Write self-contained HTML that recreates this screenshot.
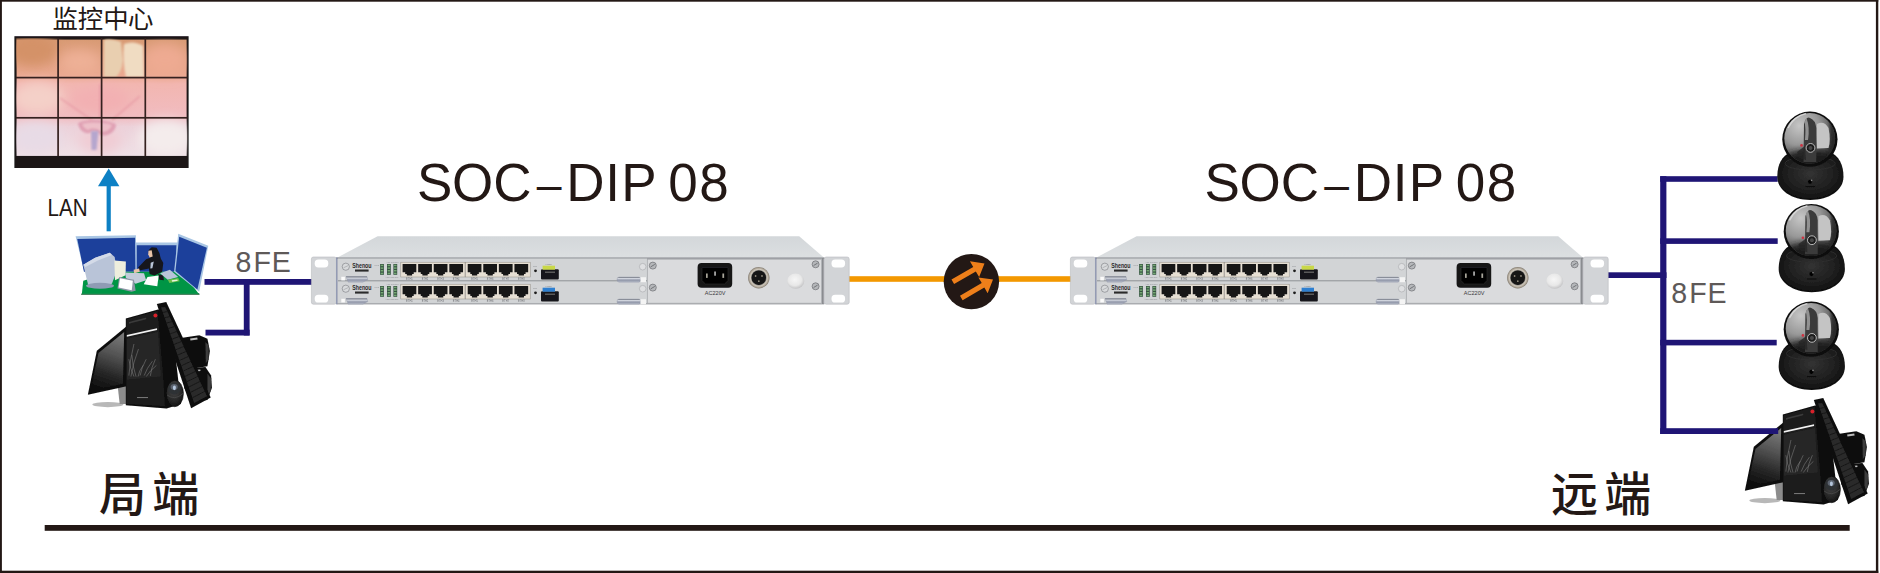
<!DOCTYPE html>
<html lang="zh-CN">
<head>
<meta charset="utf-8">
<title>SOC-DIP 08</title>
<style>
html,body{margin:0;padding:0;background:#fff;}
body{width:1880px;height:573px;overflow:hidden;position:relative;font-family:"Liberation Sans","Noto Sans CJK SC",sans-serif;}
svg{position:absolute;left:0;top:0;display:block;}
.cn{font-family:"Liberation Sans","Noto Sans CJK SC","WenQuanYi Zen Hei",sans-serif;fill:#231815;font-weight:500;}
.la{font-family:"Liberation Sans",sans-serif;}
</style>
</head>
<body>
<svg width="1880" height="573" viewBox="0 0 1880 573">
<defs>
<filter id="b05" x="-5%" y="-5%" width="110%" height="110%"><feGaussianBlur stdDeviation="0.5"/></filter>
<filter id="b1" x="-10%" y="-10%" width="120%" height="120%"><feGaussianBlur stdDeviation="1"/></filter>
<filter id="b3" x="-30%" y="-30%" width="160%" height="160%"><feGaussianBlur stdDeviation="3"/></filter>
<filter id="b6" x="-50%" y="-50%" width="200%" height="200%"><feGaussianBlur stdDeviation="6"/></filter>
<linearGradient id="wallg" x1="0" y1="0" x2="0" y2="1">
<stop offset="0" stop-color="#d89a74"/><stop offset="0.3" stop-color="#eaa890"/><stop offset="0.38" stop-color="#f2b6b0"/><stop offset="0.66" stop-color="#f1bcc0"/><stop offset="0.75" stop-color="#ecd2da"/><stop offset="1" stop-color="#efe0e6"/>
</linearGradient>
<clipPath id="wallclip"><rect x="16.3" y="38.3" width="171" height="117.6"/></clipPath>
<linearGradient id="topface" x1="0" y1="0" x2="0" y2="1"><stop offset="0" stop-color="#d3d7da"/><stop offset="1" stop-color="#dcdfe1"/></linearGradient>
<radialGradient id="domeg" cx="0.3" cy="0.25" r="0.85"><stop offset="0" stop-color="#c6c6c6"/><stop offset="0.45" stop-color="#989898"/><stop offset="0.8" stop-color="#505050"/><stop offset="1" stop-color="#2c2c2c"/></radialGradient>
<radialGradient id="baseg" cx="0.5" cy="0.45" r="0.62"><stop offset="0" stop-color="#333333"/><stop offset="0.6" stop-color="#1e1e1e"/><stop offset="1" stop-color="#080808"/></radialGradient>
<linearGradient id="mong" x1="0.55" y1="0" x2="0.35" y2="1"><stop offset="0" stop-color="#777777"/><stop offset="0.35" stop-color="#525252"/><stop offset="0.7" stop-color="#262626"/><stop offset="1" stop-color="#0c0c0c"/></linearGradient>
<linearGradient id="silver" x1="0" y1="0" x2="0" y2="1"><stop offset="0" stop-color="#5a5e68"/><stop offset="0.25" stop-color="#d8dce4"/><stop offset="0.6" stop-color="#9096a8"/><stop offset="1" stop-color="#b8bcc8"/></linearGradient>
<radialGradient id="mouseg" cx="0.45" cy="0.35" r="0.75"><stop offset="0" stop-color="#4a4a4a"/><stop offset="0.6" stop-color="#262626"/><stop offset="1" stop-color="#0a0a0a"/></radialGradient>
<radialGradient id="knobg" cx="0.45" cy="0.4" r="0.6"><stop offset="0" stop-color="#f6f6f6"/><stop offset="0.65" stop-color="#e8e8e8"/><stop offset="1" stop-color="#c4c4c6"/></radialGradient>
<radialGradient id="ringg" cx="0.5" cy="0.5" r="0.5"><stop offset="0.6" stop-color="#555"/><stop offset="0.78" stop-color="#cfc8bc"/><stop offset="0.92" stop-color="#a59c8e"/><stop offset="1" stop-color="#7d766c"/></radialGradient>
</defs>

<rect x="0" y="0" width="1880" height="573" fill="#fff"/>
<g fill="#231815"><rect x="0" y="0" width="1878.3" height="1.7"/><rect x="0" y="0" width="1.9" height="573"/><rect x="1875.9" y="0" width="2.4" height="573"/><rect x="0" y="570.7" width="1878.3" height="2.3"/></g>
<g id="wall">
<rect x="14.4" y="36.2" width="174.2" height="131.8" fill="#1a1516" filter="url(#b05)"/>
<rect x="16.6" y="39.6" width="170" height="116.3" fill="url(#wallg)"/>
<g clip-path="url(#wallclip)">
<ellipse cx="32" cy="50" rx="26" ry="16" fill="#d49268" filter="url(#b6)"/>
<ellipse cx="80" cy="62" rx="20" ry="12" fill="#eeb096" filter="url(#b6)"/>
<ellipse cx="165" cy="60" rx="22" ry="16" fill="#eeaa92" filter="url(#b6)"/>
<path d="M104 40 Q110 38 121 42 L123 60 Q122 72 116 77 L104 77 Z" fill="#e9cfb0" filter="url(#b1)"/>
<path d="M124 44 Q134 40 143 46 L144 77 L126 77 Q122 60 124 44 Z" fill="#f0dcc2" filter="url(#b1)"/>
<ellipse cx="38" cy="98" rx="26" ry="16" fill="#f4d0c8" filter="url(#b6)"/>
<ellipse cx="100" cy="100" rx="30" ry="14" fill="#f2b0b2" filter="url(#b6)"/>
<ellipse cx="166" cy="138" rx="28" ry="18" fill="#f4ecec" filter="url(#b6)"/>
<ellipse cx="36" cy="138" rx="26" ry="16" fill="#e8dbe6" filter="url(#b6)"/>
<ellipse cx="100" cy="140" rx="22" ry="14" fill="#f0ccd4" filter="url(#b6)"/>
<path d="M78 123 C86 119 104 119 116 124 C116 132 108 137 100 135 C98 132 94 130 90 133 C84 134 79 130 78 123 Z" fill="#de9bb0" filter="url(#b1)" opacity="0.9"/>
<path d="M82 124 C90 122 104 122 112 125 C110 131 104 133 100 131 C96 128 92 128 88 130 C85 129 83 127 82 124 Z" fill="#efc4cc" filter="url(#b1)" opacity="0.9"/>
<path d="M91 131 L98.5 131 L96.5 150 L91.5 150 Z" fill="#b5a6ce" filter="url(#b1)"/>
<path d="M60 98 L92 120 M140 96 L112 120 M100 84 L100 118" stroke="#e79aa4" stroke-width="2" fill="none" filter="url(#b1)" opacity="0.7"/>
</g>
<rect x="57.25" y="38" width="1.7" height="118" fill="#35211f"/>
<rect x="100.75" y="38" width="1.7" height="118" fill="#35211f"/>
<rect x="144.45" y="38" width="1.7" height="118" fill="#35211f"/>
<rect x="16" y="76.75" width="171.5" height="1.7" fill="#35211f"/>
<rect x="16" y="116.95" width="171.5" height="1.7" fill="#35211f"/>
</g>
<text class="cn" x="52.6 77.8 103.2 127.9" y="27.7" font-size="25.4" style="font-weight:400">监控中心</text>
<rect x="106.6" y="184" width="4.2" height="47.3" fill="#0d80c4"/>
<polygon points="108.7,168.5 98,186.3 119.4,186.3" fill="#0d80c4"/>
<text class="la" x="47.6" y="216.3" font-size="24.4" fill="#231815" textLength="40" lengthAdjust="spacingAndGlyphs">LAN</text>
<g id="office" filter="url(#b05)">
<polygon points="75.59,236.17 135.92,235.34 136.48,271.09 83.97,271.09" fill="#a9c6e4"/>
<polygon points="77.26,238.97 135.08,237.85 135.64,271.79 83.97,271.79" fill="#1d3f9b"/>
<polygon points="135.64,242.46 178.24,242.46 178.24,271.79 135.64,271.79" fill="#a9c6e4"/>
<polygon points="136.76,245.25 176.42,245.25 176.42,271.79 136.76,271.79" fill="#1d3f9b"/>
<polygon points="80.89,294.83 199.61,294.83 199.19,293.16 81.87,293.16" fill="#0b5b2c"/>
<polygon points="81.87,293.72 198.77,293.72 181.73,271.79 111.9,271.79 83.27,280.87" fill="#019545"/>
<polygon points="178.24,233.66 208.27,245.67 199.19,291.76 174.05,271.79" fill="#a9c6e4"/>
<polygon points="179.22,236.87 206.87,247.63 197.37,289.53 175.45,271.09" fill="#1d3f9b"/>
<path d="M83.27,264.8 L95.14,257.82 L109.8,252.65 L114.69,257.12 L116.79,271.09 L111.9,283.66 L99.33,287.57 L88.16,285.06" fill="#b9c4d8"/>
<polygon points="83.27,264.8 95.14,257.82 109.8,252.65 111.9,255.03 97.93,260.61 85.36,266.9" fill="#d4dbe8"/>
<ellipse cx="100.03" cy="285.75" rx="14" ry="3" fill="#8f9bb4"/>
<polygon points="114.41,260.61 125.87,261.59 125.59,275.28 114.97,280.17" fill="#eeeedd"/>
<polygon points="125.17,272.49 144.02,273.18 146.12,280.17 135.64,283.66 125.87,278.07" fill="#c4ccda"/>
<path d="M148.49,250.14 L151.7,247.35 L156.59,247.63 L159.39,252.93 L160.78,258.52 L163.3,262.99 L162.18,271.79 L154.5,275.56 L149.61,273.88 L148.91,268.58 L139.13,270.39 L138.16,267.6 L146.12,259.22 L150.31,257.68 Z" fill="#15161a"/>
<polygon points="148.49,250.84 151.7,250.14 152.68,256.42 149.61,257.4 148.21,254.33" fill="#e9c3a8"/>
<polygon points="150.73,262.71 153.8,261.59 152.4,268.3 150.31,268.58" fill="#b9c4d8"/>
<polygon points="133.55,269.69 139.13,268.58 139.83,271.79 134.25,273.18" fill="#e9c3a8"/>
<polygon points="157.99,274.16 163.3,275.28 163.85,280.17 159.39,279.75" fill="#15161a"/>
<polygon points="147.51,276.96 158.69,275.56 157.29,286.17 143.74,284.36" fill="#fdfdfd"/>
<polygon points="160.08,273.18 169.86,269.69 178.24,276.96 167.77,279.75" fill="#b9c4d8"/>
<polygon points="167.77,279.75 178.24,278.07 179.64,281.15 169.44,282.96" fill="#6dbf4a"/>
<polygon points="171.68,280.31 177.26,279.47 177.82,280.87 172.23,281.7" fill="#e8f4e0"/>
<polygon points="119.16,276.96 133.97,279.75 135.64,290.64 131.45,291.76 117.49,288.55" fill="#8d96a6"/>
<polygon points="120,278.35 132.85,280.87 131.73,290.36 118.6,287.57" fill="#ffffff"/>
</g>
<g transform="translate(0,0)" filter="url(#b05)">
<ellipse cx="107.86" cy="404.53" rx="15.5" ry="2.6" fill="#b8b8b8"/>
<polygon points="117.65,385.76 126.63,383.71 126.63,404.12 119.69,404.12" fill="#8c8c8c"/>
<polygon points="96.84,350.65 126.63,326.16 126.63,386.16 87.86,394.73" fill="#0c0c0c"/>
<polygon points="98.47,353.1 124.18,331.88 122.96,383.71 90.31,391.06" fill="url(#mong)"/>
<polygon points="125.82,318.41 158.06,309.43 170.71,313.31 180.92,404.12 166.63,408.61 125.82,405.35" fill="#0a0a0a"/>
<polygon points="126.43,319.22 157.65,310.65 163.37,377.59 165,406.16 126.43,404.12" fill="#1b1b1b"/>
<polygon points="126.84,338.82 158.06,331.67 160.92,376.57 126.84,379.63" fill="#262626"/>
<polygon points="126.84,334.94 157.04,328.2 157.04,330.04 126.84,336.78" fill="#f2f2f2"/>
<path d="M128.88,375.55 Q129.8,359.73 133.98,343.92" stroke="#8a8a8a" stroke-width="0.5" fill="none"/>
<path d="M130.92,376.57 Q133.06,362.8 138.47,349.02" stroke="#8a8a8a" stroke-width="0.5" fill="none"/>
<path d="M136.02,376.57 Q132.35,365.86 131.94,355.14" stroke="#8a8a8a" stroke-width="0.5" fill="none"/>
<path d="M140.1,375.55 Q141.53,367.39 146.22,359.22" stroke="#8a8a8a" stroke-width="0.5" fill="none"/>
<path d="M144.18,375.55 Q146.63,368.41 152.35,361.27" stroke="#8a8a8a" stroke-width="0.5" fill="none"/>
<path d="M146.22,376.57 Q149.69,370.96 156.43,365.35" stroke="#8a8a8a" stroke-width="0.5" fill="none"/>
<path d="M133.98,376.57 Q129.8,367.9 128.88,359.22" stroke="#8a8a8a" stroke-width="0.5" fill="none"/>
<path d="M150.31,375.96 Q151.22,367.59 155.41,359.22" stroke="#8a8a8a" stroke-width="0.5" fill="none"/>
<path d="M138.06,376.57 Q138.98,370.96 143.16,365.35" stroke="#8a8a8a" stroke-width="0.5" fill="none"/>
<polygon points="128.88,322.08 146.22,317.59 146.22,319.22 128.88,323.71" fill="#3a3a3a"/>
<circle cx="155.41" cy="315.55" r="2" fill="#d8202a"/>
<path d="M182.55,337.8 L199.29,335.14 L207.45,338.82 L209.9,351.06 L207.45,366.37 L187.04,369.43 L180.92,359.22 Z" fill="#0d0d0d"/>
<path d="M185,368.41 L205.41,366.98 L211.12,375.55 L211.94,387.8 L207.45,400.04 L191.12,402.08 L184.18,387.8 Z" fill="#0d0d0d"/>
<polygon points="205.41,341.88 208.67,345.35 208.67,359.22 205.82,363.31" fill="#3c3c3c"/>
<polygon points="207.45,373.51 211.12,378.61 210.71,390.86 207.45,396.98" fill="#3c3c3c"/>
<polygon points="190.1,338.41 197.24,337.39 197.65,339.43 190.51,340.45" fill="#bbb"/>
<polygon points="196.22,369.84 200.31,369.43 200.51,371.06 196.43,371.47" fill="#bbb"/>
<polygon points="156.84,304.12 166.22,302.08 210.71,397.59 191.12,408.2" fill="#0b0b0b"/>
<polygon points="160.92,307.18 165,306.57 207.04,396.37 194.18,403.1" fill="#2a2a2a"/>
<path d="M160.92,307.18 L165,306.57" stroke="#0b0b0b" stroke-width="0.6"/>
<path d="M162.77,312.51 L167.34,311.56" stroke="#0b0b0b" stroke-width="0.6"/>
<path d="M164.61,317.84 L169.67,316.55" stroke="#0b0b0b" stroke-width="0.6"/>
<path d="M166.46,323.17 L172.01,321.54" stroke="#0b0b0b" stroke-width="0.6"/>
<path d="M168.31,328.5 L174.34,326.53" stroke="#0b0b0b" stroke-width="0.6"/>
<path d="M170.16,333.83 L176.68,331.51" stroke="#0b0b0b" stroke-width="0.6"/>
<path d="M172.01,339.16 L179.01,336.5" stroke="#0b0b0b" stroke-width="0.6"/>
<path d="M173.85,344.49 L181.35,341.49" stroke="#0b0b0b" stroke-width="0.6"/>
<path d="M175.7,349.81 L183.68,346.48" stroke="#0b0b0b" stroke-width="0.6"/>
<path d="M177.55,355.14 L186.02,351.47" stroke="#0b0b0b" stroke-width="0.6"/>
<path d="M179.4,360.47 L188.36,356.46" stroke="#0b0b0b" stroke-width="0.6"/>
<path d="M181.25,365.8 L190.69,361.45" stroke="#0b0b0b" stroke-width="0.6"/>
<path d="M183.1,371.13 L193.03,366.44" stroke="#0b0b0b" stroke-width="0.6"/>
<path d="M184.94,376.46 L195.36,371.42" stroke="#0b0b0b" stroke-width="0.6"/>
<path d="M186.79,381.79 L197.7,376.41" stroke="#0b0b0b" stroke-width="0.6"/>
<path d="M188.64,387.12 L200.03,381.4" stroke="#0b0b0b" stroke-width="0.6"/>
<path d="M190.49,392.44 L202.37,386.39" stroke="#0b0b0b" stroke-width="0.6"/>
<path d="M192.34,397.77 L204.71,391.38" stroke="#0b0b0b" stroke-width="0.6"/>
<ellipse cx="174.8" cy="393.51" rx="8.6" ry="13.2" fill="url(#mouseg)" stroke="#050505" stroke-width="0.6"/>
<ellipse cx="174.39" cy="388.41" rx="6.4" ry="6" fill="#2e3034"/>
<ellipse cx="174.18" cy="386.98" rx="3.6" ry="3" fill="#5c6470"/>
<ellipse cx="174.39" cy="387.8" rx="1.5" ry="2.4" fill="#b4c6dc"/>
<path d="M167.04,394.94 Q174.8,401.06 182.96,393.51" stroke="#4a4a4a" stroke-width="0.8" fill="none"/>
<rect x="137.04" y="397.18" width="11" height="0.9" fill="#8a8a8a"/>
</g>
<g transform="translate(1657,96)" filter="url(#b05)">
<ellipse cx="107.86" cy="404.53" rx="15.5" ry="2.6" fill="#b8b8b8"/>
<polygon points="117.65,385.76 126.63,383.71 126.63,404.12 119.69,404.12" fill="#8c8c8c"/>
<polygon points="96.84,350.65 126.63,326.16 126.63,386.16 87.86,394.73" fill="#0c0c0c"/>
<polygon points="98.47,353.1 124.18,331.88 122.96,383.71 90.31,391.06" fill="url(#mong)"/>
<polygon points="125.82,318.41 158.06,309.43 170.71,313.31 180.92,404.12 166.63,408.61 125.82,405.35" fill="#0a0a0a"/>
<polygon points="126.43,319.22 157.65,310.65 163.37,377.59 165,406.16 126.43,404.12" fill="#1b1b1b"/>
<polygon points="126.84,338.82 158.06,331.67 160.92,376.57 126.84,379.63" fill="#262626"/>
<polygon points="126.84,334.94 157.04,328.2 157.04,330.04 126.84,336.78" fill="#f2f2f2"/>
<path d="M128.88,375.55 Q129.8,359.73 133.98,343.92" stroke="#8a8a8a" stroke-width="0.5" fill="none"/>
<path d="M130.92,376.57 Q133.06,362.8 138.47,349.02" stroke="#8a8a8a" stroke-width="0.5" fill="none"/>
<path d="M136.02,376.57 Q132.35,365.86 131.94,355.14" stroke="#8a8a8a" stroke-width="0.5" fill="none"/>
<path d="M140.1,375.55 Q141.53,367.39 146.22,359.22" stroke="#8a8a8a" stroke-width="0.5" fill="none"/>
<path d="M144.18,375.55 Q146.63,368.41 152.35,361.27" stroke="#8a8a8a" stroke-width="0.5" fill="none"/>
<path d="M146.22,376.57 Q149.69,370.96 156.43,365.35" stroke="#8a8a8a" stroke-width="0.5" fill="none"/>
<path d="M133.98,376.57 Q129.8,367.9 128.88,359.22" stroke="#8a8a8a" stroke-width="0.5" fill="none"/>
<path d="M150.31,375.96 Q151.22,367.59 155.41,359.22" stroke="#8a8a8a" stroke-width="0.5" fill="none"/>
<path d="M138.06,376.57 Q138.98,370.96 143.16,365.35" stroke="#8a8a8a" stroke-width="0.5" fill="none"/>
<polygon points="128.88,322.08 146.22,317.59 146.22,319.22 128.88,323.71" fill="#3a3a3a"/>
<circle cx="155.41" cy="315.55" r="2" fill="#d8202a"/>
<path d="M182.55,337.8 L199.29,335.14 L207.45,338.82 L209.9,351.06 L207.45,366.37 L187.04,369.43 L180.92,359.22 Z" fill="#0d0d0d"/>
<path d="M185,368.41 L205.41,366.98 L211.12,375.55 L211.94,387.8 L207.45,400.04 L191.12,402.08 L184.18,387.8 Z" fill="#0d0d0d"/>
<polygon points="205.41,341.88 208.67,345.35 208.67,359.22 205.82,363.31" fill="#3c3c3c"/>
<polygon points="207.45,373.51 211.12,378.61 210.71,390.86 207.45,396.98" fill="#3c3c3c"/>
<polygon points="190.1,338.41 197.24,337.39 197.65,339.43 190.51,340.45" fill="#bbb"/>
<polygon points="196.22,369.84 200.31,369.43 200.51,371.06 196.43,371.47" fill="#bbb"/>
<polygon points="156.84,304.12 166.22,302.08 210.71,397.59 191.12,408.2" fill="#0b0b0b"/>
<polygon points="160.92,307.18 165,306.57 207.04,396.37 194.18,403.1" fill="#2a2a2a"/>
<path d="M160.92,307.18 L165,306.57" stroke="#0b0b0b" stroke-width="0.6"/>
<path d="M162.77,312.51 L167.34,311.56" stroke="#0b0b0b" stroke-width="0.6"/>
<path d="M164.61,317.84 L169.67,316.55" stroke="#0b0b0b" stroke-width="0.6"/>
<path d="M166.46,323.17 L172.01,321.54" stroke="#0b0b0b" stroke-width="0.6"/>
<path d="M168.31,328.5 L174.34,326.53" stroke="#0b0b0b" stroke-width="0.6"/>
<path d="M170.16,333.83 L176.68,331.51" stroke="#0b0b0b" stroke-width="0.6"/>
<path d="M172.01,339.16 L179.01,336.5" stroke="#0b0b0b" stroke-width="0.6"/>
<path d="M173.85,344.49 L181.35,341.49" stroke="#0b0b0b" stroke-width="0.6"/>
<path d="M175.7,349.81 L183.68,346.48" stroke="#0b0b0b" stroke-width="0.6"/>
<path d="M177.55,355.14 L186.02,351.47" stroke="#0b0b0b" stroke-width="0.6"/>
<path d="M179.4,360.47 L188.36,356.46" stroke="#0b0b0b" stroke-width="0.6"/>
<path d="M181.25,365.8 L190.69,361.45" stroke="#0b0b0b" stroke-width="0.6"/>
<path d="M183.1,371.13 L193.03,366.44" stroke="#0b0b0b" stroke-width="0.6"/>
<path d="M184.94,376.46 L195.36,371.42" stroke="#0b0b0b" stroke-width="0.6"/>
<path d="M186.79,381.79 L197.7,376.41" stroke="#0b0b0b" stroke-width="0.6"/>
<path d="M188.64,387.12 L200.03,381.4" stroke="#0b0b0b" stroke-width="0.6"/>
<path d="M190.49,392.44 L202.37,386.39" stroke="#0b0b0b" stroke-width="0.6"/>
<path d="M192.34,397.77 L204.71,391.38" stroke="#0b0b0b" stroke-width="0.6"/>
<ellipse cx="174.8" cy="393.51" rx="8.6" ry="13.2" fill="url(#mouseg)" stroke="#050505" stroke-width="0.6"/>
<ellipse cx="174.39" cy="388.41" rx="6.4" ry="6" fill="#2e3034"/>
<ellipse cx="174.18" cy="386.98" rx="3.6" ry="3" fill="#5c6470"/>
<ellipse cx="174.39" cy="387.8" rx="1.5" ry="2.4" fill="#b4c6dc"/>
<path d="M167.04,394.94 Q174.8,401.06 182.96,393.51" stroke="#4a4a4a" stroke-width="0.8" fill="none"/>
<rect x="137.04" y="397.18" width="11" height="0.9" fill="#8a8a8a"/>
</g>
<g fill="#1f1575">
<rect x="204.5" y="279" width="107.5" height="5.8"/>
<rect x="243.8" y="279" width="5.8" height="56.5"/>
<rect x="205.5" y="329.7" width="44.1" height="5.8"/>
<rect x="1607" y="272.3" width="59.5" height="5.7"/>
<rect x="1660.2" y="176.2" width="6.2" height="257.8"/>
<rect x="1660.2" y="176.2" width="117.5" height="5.6"/>
<rect x="1660.2" y="238.3" width="117.5" height="5.6"/>
<rect x="1660.2" y="339.8" width="116.5" height="5.6"/>
<rect x="1660.2" y="428.2" width="118" height="5.8"/>
</g>
<text class="la" x="235.5 253.5 271.7" y="272.1" font-size="28.6" fill="#5e5958">8FE</text>
<text class="la" x="1671.2 1689.2 1707.4" y="303.1" font-size="28.6" fill="#5e5958">8FE</text>
<rect x="848" y="276.2" width="224" height="5.6" fill="#f39800"/>
<circle cx="971.4" cy="281.6" r="27.7" fill="#231815"/>
<polygon transform="translate(952.8,281.7) rotate(-30)" points="0,-2.6 25.1,-2.6 25.1,-9.2 36.6,0 25.1,9.2 25.1,2.6 0,2.6" fill="#ee7f1a"/>
<polygon transform="translate(961.3,297.9) rotate(-30)" points="0,-2.6 25.1,-2.6 25.1,-9.2 36.6,0 25.1,9.2 25.1,2.6 0,2.6" fill="#ee7f1a"/>
<g transform="translate(0,0)">
<g filter="url(#b05)">
<polygon points="377.6,236.2 799.2,236.2 824.4,258 336.5,258" fill="url(#topface)"/>
<rect x="311.4" y="257" width="25" height="47.2" rx="2" fill="#d2d4d7" stroke="#b9bbbf" stroke-width="0.6"/>
<rect x="824.2" y="257" width="25" height="47.2" rx="2" fill="#d2d4d7" stroke="#b9bbbf" stroke-width="0.6"/>
<rect x="314.7" y="259.6" width="13.6" height="7.8" rx="3.6" fill="#ffffff"/>
<rect x="314.7" y="294.8" width="13.6" height="7.8" rx="3.6" fill="#ffffff"/>
<rect x="831.5" y="259.6" width="13.6" height="7.8" rx="3.6" fill="#ffffff"/>
<rect x="831.5" y="294.8" width="13.6" height="7.8" rx="3.6" fill="#ffffff"/>
<rect x="336.5" y="257.3" width="487.8" height="47" fill="#c4c6ca"/>
<rect x="336.5" y="257.6" width="487.8" height="1.1" fill="#8d9094"/>
<rect x="336.5" y="303.3" width="487.8" height="1" fill="#a0a2a6"/>
<rect x="336.3" y="257.3" width="1" height="47" fill="#7d86a8"/>
<rect x="338" y="258.6" width="309" height="21.6" fill="#d2d4d6"/>
<rect x="338" y="281.3" width="309" height="21.6" fill="#d2d4d6"/>
<rect x="338" y="280.2" width="309" height="1.1" fill="#9a9ca0"/>
<rect x="647.3" y="259.2" width="174.3" height="44" fill="#dadbdd" stroke="#a4a6aa" stroke-width="0.7"/>
<rect x="822" y="258" width="1.6" height="46" fill="#8a8c90"/>
<circle cx="345.8" cy="266.7" r="3.6" fill="#d8dadc" stroke="#77797d" stroke-width="0.6"/>
<path d="M343.6 267.7 l4.4 -2" stroke="#8a8c90" stroke-width="0.5"/>
<rect x="355" y="269.5" width="13.6" height="2.1" fill="#2a2a2a"/>
<rect x="380.1" y="264" width="3.8" height="10.8" fill="#355241"/>
<rect x="380.7" y="264.7" width="2.6" height="1.5" fill="#74a873"/>
<rect x="380.7" y="267.35" width="2.6" height="1.5" fill="#74a873"/>
<rect x="380.7" y="270" width="2.6" height="1.5" fill="#74a873"/>
<rect x="380.7" y="272.65" width="2.6" height="1.5" fill="#74a873"/>
<rect x="387" y="264" width="3.8" height="10.8" fill="#355241"/>
<rect x="387.6" y="264.7" width="2.6" height="1.5" fill="#74a873"/>
<rect x="387.6" y="267.35" width="2.6" height="1.5" fill="#74a873"/>
<rect x="387.6" y="270" width="2.6" height="1.5" fill="#74a873"/>
<rect x="387.6" y="272.65" width="2.6" height="1.5" fill="#74a873"/>
<rect x="393.4" y="264" width="3.8" height="10.8" fill="#355241"/>
<rect x="394" y="264.7" width="2.6" height="1.5" fill="#74a873"/>
<rect x="394" y="267.35" width="2.6" height="1.5" fill="#74a873"/>
<rect x="394" y="270" width="2.6" height="1.5" fill="#74a873"/>
<rect x="394" y="272.65" width="2.6" height="1.5" fill="#74a873"/>
<text class="la" x="386" y="263" font-size="2.2" fill="#8a8c90">ACT 1G ETH</text>
<text class="la" x="385" y="277.6" font-size="2.2" fill="#8a8c90">ACTIVE/LINK</text>
<text class="la" x="374.5" y="266" font-size="2" fill="#8a8c90">PWR</text>
<text class="la" x="533" y="267.2" font-size="2" fill="#8a8c90">RST</text>
<text class="la" x="545.5" y="264.6" font-size="2.2" fill="#8a8c90">FIBER</text>
<rect x="400.8" y="262.2" width="64.2" height="14.8" fill="#e6dfd3" stroke="#8f8a82" stroke-width="0.5"/>
<rect x="465.6" y="262.2" width="64.6" height="14.8" fill="#e6dfd3" stroke="#8f8a82" stroke-width="0.5"/>
<path d="M402.6 264.1 h13.7 v8.2 h-2.6 v1.8 h-1.6 v1.4 h-5.3 v-1.4 h-1.6 v-1.8 h-2.6 Z" fill="#121214"/>
<path d="M418.18 264.1 h13.7 v8.2 h-2.6 v1.8 h-1.6 v1.4 h-5.3 v-1.4 h-1.6 v-1.8 h-2.6 Z" fill="#121214"/>
<path d="M433.76 264.1 h13.7 v8.2 h-2.6 v1.8 h-1.6 v1.4 h-5.3 v-1.4 h-1.6 v-1.8 h-2.6 Z" fill="#121214"/>
<path d="M449.34 264.1 h13.7 v8.2 h-2.6 v1.8 h-1.6 v1.4 h-5.3 v-1.4 h-1.6 v-1.8 h-2.6 Z" fill="#121214"/>
<path d="M467.72 264.1 h13.7 v8.2 h-2.6 v1.8 h-1.6 v1.4 h-5.3 v-1.4 h-1.6 v-1.8 h-2.6 Z" fill="#121214"/>
<path d="M483.3 264.1 h13.7 v8.2 h-2.6 v1.8 h-1.6 v1.4 h-5.3 v-1.4 h-1.6 v-1.8 h-2.6 Z" fill="#121214"/>
<path d="M498.88 264.1 h13.7 v8.2 h-2.6 v1.8 h-1.6 v1.4 h-5.3 v-1.4 h-1.6 v-1.8 h-2.6 Z" fill="#121214"/>
<path d="M514.46 264.1 h13.7 v8.2 h-2.6 v1.8 h-1.6 v1.4 h-5.3 v-1.4 h-1.6 v-1.8 h-2.6 Z" fill="#121214"/>
<text class="la" x="409.4" y="279.9" font-size="2.6" fill="#6a6c70" text-anchor="middle">ETH1</text>
<text class="la" x="424.98" y="279.9" font-size="2.6" fill="#6a6c70" text-anchor="middle">ETH2</text>
<text class="la" x="440.56" y="279.9" font-size="2.6" fill="#6a6c70" text-anchor="middle">ETH3</text>
<text class="la" x="456.14" y="279.9" font-size="2.6" fill="#6a6c70" text-anchor="middle">ETH4</text>
<text class="la" x="474.52" y="279.9" font-size="2.6" fill="#6a6c70" text-anchor="middle">ETH5</text>
<text class="la" x="490.1" y="279.9" font-size="2.6" fill="#6a6c70" text-anchor="middle">ETH6</text>
<text class="la" x="505.68" y="279.9" font-size="2.6" fill="#6a6c70" text-anchor="middle">ETH7</text>
<text class="la" x="521.26" y="279.9" font-size="2.6" fill="#6a6c70" text-anchor="middle">ETH8</text>
<circle cx="535.5" cy="270.8" r="1.4" fill="#1a1a1a"/>
<rect x="541" y="269.3" width="17.8" height="10.2" rx="1" fill="#18181a"/>
<rect x="542.6" y="265.7" width="12.4" height="4" fill="#c9d84a"/>
<rect x="545" y="271.5" width="10" height="1.5" fill="#5a5a5a"/>
<rect x="341.3" y="276.8" width="3.6" height="3.6" fill="#fbfbfb"/>
<path d="M346 276.6 h21 l0.8 3 l-5 2.6 h-14.5 Z" fill="url(#silver)" stroke="#8088a0" stroke-width="0.3"/>
<path d="M619 277 h19.5 q2 0 2 2 v1.2 q0 2 -2 2 h-19.5 q-2 -0.3 -2 -2.6 q0 -2.3 2 -2.6 Z" fill="url(#silver)" stroke="#8088a0" stroke-width="0.3"/>
<rect x="640.5" y="277.2" width="5.5" height="5" fill="#f4f4f4"/>
<circle cx="642.7" cy="266.7" r="3.3" fill="#dfe0e2" stroke="#a7a9ad" stroke-width="0.6"/>
<circle cx="652.8" cy="265.6" r="3.5" fill="#b5b7ba" stroke="#6d6f73" stroke-width="0.7"/>
<path d="M650.8 266.8 l4 -2.4" stroke="#55575b" stroke-width="0.7"/>
<circle cx="815.6" cy="264.3" r="3.5" fill="#b5b7ba" stroke="#6d6f73" stroke-width="0.7"/>
<path d="M813.6 265.5 l4 -2.4" stroke="#55575b" stroke-width="0.7"/>
<circle cx="345.8" cy="288.7" r="3.6" fill="#d8dadc" stroke="#77797d" stroke-width="0.6"/>
<path d="M343.6 289.7 l4.4 -2" stroke="#8a8c90" stroke-width="0.5"/>
<rect x="355" y="291.5" width="13.6" height="2.1" fill="#2a2a2a"/>
<rect x="380.1" y="286" width="3.8" height="10.8" fill="#355241"/>
<rect x="380.7" y="286.7" width="2.6" height="1.5" fill="#74a873"/>
<rect x="380.7" y="289.35" width="2.6" height="1.5" fill="#74a873"/>
<rect x="380.7" y="292" width="2.6" height="1.5" fill="#74a873"/>
<rect x="380.7" y="294.65" width="2.6" height="1.5" fill="#74a873"/>
<rect x="387" y="286" width="3.8" height="10.8" fill="#355241"/>
<rect x="387.6" y="286.7" width="2.6" height="1.5" fill="#74a873"/>
<rect x="387.6" y="289.35" width="2.6" height="1.5" fill="#74a873"/>
<rect x="387.6" y="292" width="2.6" height="1.5" fill="#74a873"/>
<rect x="387.6" y="294.65" width="2.6" height="1.5" fill="#74a873"/>
<rect x="393.4" y="286" width="3.8" height="10.8" fill="#355241"/>
<rect x="394" y="286.7" width="2.6" height="1.5" fill="#74a873"/>
<rect x="394" y="289.35" width="2.6" height="1.5" fill="#74a873"/>
<rect x="394" y="292" width="2.6" height="1.5" fill="#74a873"/>
<rect x="394" y="294.65" width="2.6" height="1.5" fill="#74a873"/>
<text class="la" x="386" y="285" font-size="2.2" fill="#8a8c90">ACT 1G ETH</text>
<text class="la" x="385" y="299.6" font-size="2.2" fill="#8a8c90">ACTIVE/LINK</text>
<text class="la" x="374.5" y="288" font-size="2" fill="#8a8c90">PWR</text>
<text class="la" x="533" y="289.2" font-size="2" fill="#8a8c90">RST</text>
<text class="la" x="545.5" y="286.6" font-size="2.2" fill="#8a8c90">FIBER</text>
<rect x="400.8" y="284.2" width="64.2" height="14.8" fill="#e6dfd3" stroke="#8f8a82" stroke-width="0.5"/>
<rect x="465.6" y="284.2" width="64.6" height="14.8" fill="#e6dfd3" stroke="#8f8a82" stroke-width="0.5"/>
<path d="M402.6 286.1 h13.7 v8.2 h-2.6 v1.8 h-1.6 v1.4 h-5.3 v-1.4 h-1.6 v-1.8 h-2.6 Z" fill="#121214"/>
<path d="M418.18 286.1 h13.7 v8.2 h-2.6 v1.8 h-1.6 v1.4 h-5.3 v-1.4 h-1.6 v-1.8 h-2.6 Z" fill="#121214"/>
<path d="M433.76 286.1 h13.7 v8.2 h-2.6 v1.8 h-1.6 v1.4 h-5.3 v-1.4 h-1.6 v-1.8 h-2.6 Z" fill="#121214"/>
<path d="M449.34 286.1 h13.7 v8.2 h-2.6 v1.8 h-1.6 v1.4 h-5.3 v-1.4 h-1.6 v-1.8 h-2.6 Z" fill="#121214"/>
<path d="M467.72 286.1 h13.7 v8.2 h-2.6 v1.8 h-1.6 v1.4 h-5.3 v-1.4 h-1.6 v-1.8 h-2.6 Z" fill="#121214"/>
<path d="M483.3 286.1 h13.7 v8.2 h-2.6 v1.8 h-1.6 v1.4 h-5.3 v-1.4 h-1.6 v-1.8 h-2.6 Z" fill="#121214"/>
<path d="M498.88 286.1 h13.7 v8.2 h-2.6 v1.8 h-1.6 v1.4 h-5.3 v-1.4 h-1.6 v-1.8 h-2.6 Z" fill="#121214"/>
<path d="M514.46 286.1 h13.7 v8.2 h-2.6 v1.8 h-1.6 v1.4 h-5.3 v-1.4 h-1.6 v-1.8 h-2.6 Z" fill="#121214"/>
<text class="la" x="409.4" y="301.9" font-size="2.6" fill="#6a6c70" text-anchor="middle">ETH1</text>
<text class="la" x="424.98" y="301.9" font-size="2.6" fill="#6a6c70" text-anchor="middle">ETH2</text>
<text class="la" x="440.56" y="301.9" font-size="2.6" fill="#6a6c70" text-anchor="middle">ETH3</text>
<text class="la" x="456.14" y="301.9" font-size="2.6" fill="#6a6c70" text-anchor="middle">ETH4</text>
<text class="la" x="474.52" y="301.9" font-size="2.6" fill="#6a6c70" text-anchor="middle">ETH5</text>
<text class="la" x="490.1" y="301.9" font-size="2.6" fill="#6a6c70" text-anchor="middle">ETH6</text>
<text class="la" x="505.68" y="301.9" font-size="2.6" fill="#6a6c70" text-anchor="middle">ETH7</text>
<text class="la" x="521.26" y="301.9" font-size="2.6" fill="#6a6c70" text-anchor="middle">ETH8</text>
<circle cx="535.5" cy="292.8" r="1.4" fill="#1a1a1a"/>
<rect x="541" y="291.3" width="17.8" height="10.2" rx="1" fill="#18181a"/>
<rect x="542.6" y="287.7" width="12.4" height="4" fill="#2f7fd0"/>
<rect x="545" y="293.5" width="10" height="1.5" fill="#5a5a5a"/>
<rect x="341.3" y="298.8" width="3.6" height="3.6" fill="#fbfbfb"/>
<path d="M346 298.6 h21 l0.8 3 l-5 2.6 h-14.5 Z" fill="url(#silver)" stroke="#8088a0" stroke-width="0.3"/>
<path d="M619 299 h19.5 q2 0 2 2 v1.2 q0 2 -2 2 h-19.5 q-2 -0.3 -2 -2.6 q0 -2.3 2 -2.6 Z" fill="url(#silver)" stroke="#8088a0" stroke-width="0.3"/>
<rect x="640.5" y="299.2" width="5.5" height="5" fill="#f4f4f4"/>
<circle cx="642.7" cy="288.7" r="3.3" fill="#dfe0e2" stroke="#a7a9ad" stroke-width="0.6"/>
<circle cx="652.8" cy="287.6" r="3.5" fill="#b5b7ba" stroke="#6d6f73" stroke-width="0.7"/>
<path d="M650.8 288.8 l4 -2.4" stroke="#55575b" stroke-width="0.7"/>
<circle cx="815.6" cy="286.3" r="3.5" fill="#b5b7ba" stroke="#6d6f73" stroke-width="0.7"/>
<path d="M813.6 287.5 l4 -2.4" stroke="#55575b" stroke-width="0.7"/>
<rect x="697.6" y="263" width="34.6" height="24.8" rx="4" fill="#151517"/>
<path d="M702 267.5 h26 v13 l-3 3.5 h-20 l-3 -3.5 Z" fill="#050505" stroke="#2c2c2e" stroke-width="0.6"/>
<rect x="706" y="273.5" width="1.7" height="4.4" fill="#a9a69a"/>
<rect x="714.3" y="271.5" width="1.5" height="4.2" fill="#c4c4c4"/>
<rect x="722.4" y="273.5" width="1.7" height="4.4" fill="#a9a69a"/>
<circle cx="758.8" cy="277.7" r="10.7" fill="url(#ringg)"/>
<circle cx="758.8" cy="277.7" r="7.2" fill="#141414"/>
<circle cx="755.6" cy="276" r="0.9" fill="#8f8a7c"/>
<circle cx="762" cy="276" r="0.9" fill="#8f8a7c"/>
<circle cx="758.8" cy="281.2" r="0.9" fill="#8f8a7c"/>
<ellipse cx="795.7" cy="281.1" rx="8.6" ry="7.7" fill="url(#knobg)"/>
</g>
<text class="la" x="352.2" y="268.1" font-size="6.4" font-weight="bold" fill="#2a2a2c" textLength="19.4" lengthAdjust="spacingAndGlyphs">Shenou</text>
<text class="la" x="352.2" y="290.1" font-size="6.4" font-weight="bold" fill="#2a2a2c" textLength="19.4" lengthAdjust="spacingAndGlyphs">Shenou</text>
<text class="la" x="704.8" y="295.3" font-size="5.4" fill="#3a3a3c" textLength="20.6" lengthAdjust="spacingAndGlyphs">AC220V</text>
</g>
<g transform="translate(759,0)">
<g filter="url(#b05)">
<polygon points="377.6,236.2 799.2,236.2 824.4,258 336.5,258" fill="url(#topface)"/>
<rect x="311.4" y="257" width="25" height="47.2" rx="2" fill="#d2d4d7" stroke="#b9bbbf" stroke-width="0.6"/>
<rect x="824.2" y="257" width="25" height="47.2" rx="2" fill="#d2d4d7" stroke="#b9bbbf" stroke-width="0.6"/>
<rect x="314.7" y="259.6" width="13.6" height="7.8" rx="3.6" fill="#ffffff"/>
<rect x="314.7" y="294.8" width="13.6" height="7.8" rx="3.6" fill="#ffffff"/>
<rect x="831.5" y="259.6" width="13.6" height="7.8" rx="3.6" fill="#ffffff"/>
<rect x="831.5" y="294.8" width="13.6" height="7.8" rx="3.6" fill="#ffffff"/>
<rect x="336.5" y="257.3" width="487.8" height="47" fill="#c4c6ca"/>
<rect x="336.5" y="257.6" width="487.8" height="1.1" fill="#8d9094"/>
<rect x="336.5" y="303.3" width="487.8" height="1" fill="#a0a2a6"/>
<rect x="336.3" y="257.3" width="1" height="47" fill="#7d86a8"/>
<rect x="338" y="258.6" width="309" height="21.6" fill="#d2d4d6"/>
<rect x="338" y="281.3" width="309" height="21.6" fill="#d2d4d6"/>
<rect x="338" y="280.2" width="309" height="1.1" fill="#9a9ca0"/>
<rect x="647.3" y="259.2" width="174.3" height="44" fill="#dadbdd" stroke="#a4a6aa" stroke-width="0.7"/>
<rect x="822" y="258" width="1.6" height="46" fill="#8a8c90"/>
<circle cx="345.8" cy="266.7" r="3.6" fill="#d8dadc" stroke="#77797d" stroke-width="0.6"/>
<path d="M343.6 267.7 l4.4 -2" stroke="#8a8c90" stroke-width="0.5"/>
<rect x="355" y="269.5" width="13.6" height="2.1" fill="#2a2a2a"/>
<rect x="380.1" y="264" width="3.8" height="10.8" fill="#355241"/>
<rect x="380.7" y="264.7" width="2.6" height="1.5" fill="#74a873"/>
<rect x="380.7" y="267.35" width="2.6" height="1.5" fill="#74a873"/>
<rect x="380.7" y="270" width="2.6" height="1.5" fill="#74a873"/>
<rect x="380.7" y="272.65" width="2.6" height="1.5" fill="#74a873"/>
<rect x="387" y="264" width="3.8" height="10.8" fill="#355241"/>
<rect x="387.6" y="264.7" width="2.6" height="1.5" fill="#74a873"/>
<rect x="387.6" y="267.35" width="2.6" height="1.5" fill="#74a873"/>
<rect x="387.6" y="270" width="2.6" height="1.5" fill="#74a873"/>
<rect x="387.6" y="272.65" width="2.6" height="1.5" fill="#74a873"/>
<rect x="393.4" y="264" width="3.8" height="10.8" fill="#355241"/>
<rect x="394" y="264.7" width="2.6" height="1.5" fill="#74a873"/>
<rect x="394" y="267.35" width="2.6" height="1.5" fill="#74a873"/>
<rect x="394" y="270" width="2.6" height="1.5" fill="#74a873"/>
<rect x="394" y="272.65" width="2.6" height="1.5" fill="#74a873"/>
<text class="la" x="386" y="263" font-size="2.2" fill="#8a8c90">ACT 1G ETH</text>
<text class="la" x="385" y="277.6" font-size="2.2" fill="#8a8c90">ACTIVE/LINK</text>
<text class="la" x="374.5" y="266" font-size="2" fill="#8a8c90">PWR</text>
<text class="la" x="533" y="267.2" font-size="2" fill="#8a8c90">RST</text>
<text class="la" x="545.5" y="264.6" font-size="2.2" fill="#8a8c90">FIBER</text>
<rect x="400.8" y="262.2" width="64.2" height="14.8" fill="#e6dfd3" stroke="#8f8a82" stroke-width="0.5"/>
<rect x="465.6" y="262.2" width="64.6" height="14.8" fill="#e6dfd3" stroke="#8f8a82" stroke-width="0.5"/>
<path d="M402.6 264.1 h13.7 v8.2 h-2.6 v1.8 h-1.6 v1.4 h-5.3 v-1.4 h-1.6 v-1.8 h-2.6 Z" fill="#121214"/>
<path d="M418.18 264.1 h13.7 v8.2 h-2.6 v1.8 h-1.6 v1.4 h-5.3 v-1.4 h-1.6 v-1.8 h-2.6 Z" fill="#121214"/>
<path d="M433.76 264.1 h13.7 v8.2 h-2.6 v1.8 h-1.6 v1.4 h-5.3 v-1.4 h-1.6 v-1.8 h-2.6 Z" fill="#121214"/>
<path d="M449.34 264.1 h13.7 v8.2 h-2.6 v1.8 h-1.6 v1.4 h-5.3 v-1.4 h-1.6 v-1.8 h-2.6 Z" fill="#121214"/>
<path d="M467.72 264.1 h13.7 v8.2 h-2.6 v1.8 h-1.6 v1.4 h-5.3 v-1.4 h-1.6 v-1.8 h-2.6 Z" fill="#121214"/>
<path d="M483.3 264.1 h13.7 v8.2 h-2.6 v1.8 h-1.6 v1.4 h-5.3 v-1.4 h-1.6 v-1.8 h-2.6 Z" fill="#121214"/>
<path d="M498.88 264.1 h13.7 v8.2 h-2.6 v1.8 h-1.6 v1.4 h-5.3 v-1.4 h-1.6 v-1.8 h-2.6 Z" fill="#121214"/>
<path d="M514.46 264.1 h13.7 v8.2 h-2.6 v1.8 h-1.6 v1.4 h-5.3 v-1.4 h-1.6 v-1.8 h-2.6 Z" fill="#121214"/>
<text class="la" x="409.4" y="279.9" font-size="2.6" fill="#6a6c70" text-anchor="middle">ETH1</text>
<text class="la" x="424.98" y="279.9" font-size="2.6" fill="#6a6c70" text-anchor="middle">ETH2</text>
<text class="la" x="440.56" y="279.9" font-size="2.6" fill="#6a6c70" text-anchor="middle">ETH3</text>
<text class="la" x="456.14" y="279.9" font-size="2.6" fill="#6a6c70" text-anchor="middle">ETH4</text>
<text class="la" x="474.52" y="279.9" font-size="2.6" fill="#6a6c70" text-anchor="middle">ETH5</text>
<text class="la" x="490.1" y="279.9" font-size="2.6" fill="#6a6c70" text-anchor="middle">ETH6</text>
<text class="la" x="505.68" y="279.9" font-size="2.6" fill="#6a6c70" text-anchor="middle">ETH7</text>
<text class="la" x="521.26" y="279.9" font-size="2.6" fill="#6a6c70" text-anchor="middle">ETH8</text>
<circle cx="535.5" cy="270.8" r="1.4" fill="#1a1a1a"/>
<rect x="541" y="269.3" width="17.8" height="10.2" rx="1" fill="#18181a"/>
<rect x="542.6" y="265.7" width="12.4" height="4" fill="#c9d84a"/>
<rect x="545" y="271.5" width="10" height="1.5" fill="#5a5a5a"/>
<rect x="341.3" y="276.8" width="3.6" height="3.6" fill="#fbfbfb"/>
<path d="M346 276.6 h21 l0.8 3 l-5 2.6 h-14.5 Z" fill="url(#silver)" stroke="#8088a0" stroke-width="0.3"/>
<path d="M619 277 h19.5 q2 0 2 2 v1.2 q0 2 -2 2 h-19.5 q-2 -0.3 -2 -2.6 q0 -2.3 2 -2.6 Z" fill="url(#silver)" stroke="#8088a0" stroke-width="0.3"/>
<rect x="640.5" y="277.2" width="5.5" height="5" fill="#f4f4f4"/>
<circle cx="642.7" cy="266.7" r="3.3" fill="#dfe0e2" stroke="#a7a9ad" stroke-width="0.6"/>
<circle cx="652.8" cy="265.6" r="3.5" fill="#b5b7ba" stroke="#6d6f73" stroke-width="0.7"/>
<path d="M650.8 266.8 l4 -2.4" stroke="#55575b" stroke-width="0.7"/>
<circle cx="815.6" cy="264.3" r="3.5" fill="#b5b7ba" stroke="#6d6f73" stroke-width="0.7"/>
<path d="M813.6 265.5 l4 -2.4" stroke="#55575b" stroke-width="0.7"/>
<circle cx="345.8" cy="288.7" r="3.6" fill="#d8dadc" stroke="#77797d" stroke-width="0.6"/>
<path d="M343.6 289.7 l4.4 -2" stroke="#8a8c90" stroke-width="0.5"/>
<rect x="355" y="291.5" width="13.6" height="2.1" fill="#2a2a2a"/>
<rect x="380.1" y="286" width="3.8" height="10.8" fill="#355241"/>
<rect x="380.7" y="286.7" width="2.6" height="1.5" fill="#74a873"/>
<rect x="380.7" y="289.35" width="2.6" height="1.5" fill="#74a873"/>
<rect x="380.7" y="292" width="2.6" height="1.5" fill="#74a873"/>
<rect x="380.7" y="294.65" width="2.6" height="1.5" fill="#74a873"/>
<rect x="387" y="286" width="3.8" height="10.8" fill="#355241"/>
<rect x="387.6" y="286.7" width="2.6" height="1.5" fill="#74a873"/>
<rect x="387.6" y="289.35" width="2.6" height="1.5" fill="#74a873"/>
<rect x="387.6" y="292" width="2.6" height="1.5" fill="#74a873"/>
<rect x="387.6" y="294.65" width="2.6" height="1.5" fill="#74a873"/>
<rect x="393.4" y="286" width="3.8" height="10.8" fill="#355241"/>
<rect x="394" y="286.7" width="2.6" height="1.5" fill="#74a873"/>
<rect x="394" y="289.35" width="2.6" height="1.5" fill="#74a873"/>
<rect x="394" y="292" width="2.6" height="1.5" fill="#74a873"/>
<rect x="394" y="294.65" width="2.6" height="1.5" fill="#74a873"/>
<text class="la" x="386" y="285" font-size="2.2" fill="#8a8c90">ACT 1G ETH</text>
<text class="la" x="385" y="299.6" font-size="2.2" fill="#8a8c90">ACTIVE/LINK</text>
<text class="la" x="374.5" y="288" font-size="2" fill="#8a8c90">PWR</text>
<text class="la" x="533" y="289.2" font-size="2" fill="#8a8c90">RST</text>
<text class="la" x="545.5" y="286.6" font-size="2.2" fill="#8a8c90">FIBER</text>
<rect x="400.8" y="284.2" width="64.2" height="14.8" fill="#e6dfd3" stroke="#8f8a82" stroke-width="0.5"/>
<rect x="465.6" y="284.2" width="64.6" height="14.8" fill="#e6dfd3" stroke="#8f8a82" stroke-width="0.5"/>
<path d="M402.6 286.1 h13.7 v8.2 h-2.6 v1.8 h-1.6 v1.4 h-5.3 v-1.4 h-1.6 v-1.8 h-2.6 Z" fill="#121214"/>
<path d="M418.18 286.1 h13.7 v8.2 h-2.6 v1.8 h-1.6 v1.4 h-5.3 v-1.4 h-1.6 v-1.8 h-2.6 Z" fill="#121214"/>
<path d="M433.76 286.1 h13.7 v8.2 h-2.6 v1.8 h-1.6 v1.4 h-5.3 v-1.4 h-1.6 v-1.8 h-2.6 Z" fill="#121214"/>
<path d="M449.34 286.1 h13.7 v8.2 h-2.6 v1.8 h-1.6 v1.4 h-5.3 v-1.4 h-1.6 v-1.8 h-2.6 Z" fill="#121214"/>
<path d="M467.72 286.1 h13.7 v8.2 h-2.6 v1.8 h-1.6 v1.4 h-5.3 v-1.4 h-1.6 v-1.8 h-2.6 Z" fill="#121214"/>
<path d="M483.3 286.1 h13.7 v8.2 h-2.6 v1.8 h-1.6 v1.4 h-5.3 v-1.4 h-1.6 v-1.8 h-2.6 Z" fill="#121214"/>
<path d="M498.88 286.1 h13.7 v8.2 h-2.6 v1.8 h-1.6 v1.4 h-5.3 v-1.4 h-1.6 v-1.8 h-2.6 Z" fill="#121214"/>
<path d="M514.46 286.1 h13.7 v8.2 h-2.6 v1.8 h-1.6 v1.4 h-5.3 v-1.4 h-1.6 v-1.8 h-2.6 Z" fill="#121214"/>
<text class="la" x="409.4" y="301.9" font-size="2.6" fill="#6a6c70" text-anchor="middle">ETH1</text>
<text class="la" x="424.98" y="301.9" font-size="2.6" fill="#6a6c70" text-anchor="middle">ETH2</text>
<text class="la" x="440.56" y="301.9" font-size="2.6" fill="#6a6c70" text-anchor="middle">ETH3</text>
<text class="la" x="456.14" y="301.9" font-size="2.6" fill="#6a6c70" text-anchor="middle">ETH4</text>
<text class="la" x="474.52" y="301.9" font-size="2.6" fill="#6a6c70" text-anchor="middle">ETH5</text>
<text class="la" x="490.1" y="301.9" font-size="2.6" fill="#6a6c70" text-anchor="middle">ETH6</text>
<text class="la" x="505.68" y="301.9" font-size="2.6" fill="#6a6c70" text-anchor="middle">ETH7</text>
<text class="la" x="521.26" y="301.9" font-size="2.6" fill="#6a6c70" text-anchor="middle">ETH8</text>
<circle cx="535.5" cy="292.8" r="1.4" fill="#1a1a1a"/>
<rect x="541" y="291.3" width="17.8" height="10.2" rx="1" fill="#18181a"/>
<rect x="542.6" y="287.7" width="12.4" height="4" fill="#2f7fd0"/>
<rect x="545" y="293.5" width="10" height="1.5" fill="#5a5a5a"/>
<rect x="341.3" y="298.8" width="3.6" height="3.6" fill="#fbfbfb"/>
<path d="M346 298.6 h21 l0.8 3 l-5 2.6 h-14.5 Z" fill="url(#silver)" stroke="#8088a0" stroke-width="0.3"/>
<path d="M619 299 h19.5 q2 0 2 2 v1.2 q0 2 -2 2 h-19.5 q-2 -0.3 -2 -2.6 q0 -2.3 2 -2.6 Z" fill="url(#silver)" stroke="#8088a0" stroke-width="0.3"/>
<rect x="640.5" y="299.2" width="5.5" height="5" fill="#f4f4f4"/>
<circle cx="642.7" cy="288.7" r="3.3" fill="#dfe0e2" stroke="#a7a9ad" stroke-width="0.6"/>
<circle cx="652.8" cy="287.6" r="3.5" fill="#b5b7ba" stroke="#6d6f73" stroke-width="0.7"/>
<path d="M650.8 288.8 l4 -2.4" stroke="#55575b" stroke-width="0.7"/>
<circle cx="815.6" cy="286.3" r="3.5" fill="#b5b7ba" stroke="#6d6f73" stroke-width="0.7"/>
<path d="M813.6 287.5 l4 -2.4" stroke="#55575b" stroke-width="0.7"/>
<rect x="697.6" y="263" width="34.6" height="24.8" rx="4" fill="#151517"/>
<path d="M702 267.5 h26 v13 l-3 3.5 h-20 l-3 -3.5 Z" fill="#050505" stroke="#2c2c2e" stroke-width="0.6"/>
<rect x="706" y="273.5" width="1.7" height="4.4" fill="#a9a69a"/>
<rect x="714.3" y="271.5" width="1.5" height="4.2" fill="#c4c4c4"/>
<rect x="722.4" y="273.5" width="1.7" height="4.4" fill="#a9a69a"/>
<circle cx="758.8" cy="277.7" r="10.7" fill="url(#ringg)"/>
<circle cx="758.8" cy="277.7" r="7.2" fill="#141414"/>
<circle cx="755.6" cy="276" r="0.9" fill="#8f8a7c"/>
<circle cx="762" cy="276" r="0.9" fill="#8f8a7c"/>
<circle cx="758.8" cy="281.2" r="0.9" fill="#8f8a7c"/>
<ellipse cx="795.7" cy="281.1" rx="8.6" ry="7.7" fill="url(#knobg)"/>
</g>
<text class="la" x="352.2" y="268.1" font-size="6.4" font-weight="bold" fill="#2a2a2c" textLength="19.4" lengthAdjust="spacingAndGlyphs">Shenou</text>
<text class="la" x="352.2" y="290.1" font-size="6.4" font-weight="bold" fill="#2a2a2c" textLength="19.4" lengthAdjust="spacingAndGlyphs">Shenou</text>
<text class="la" x="704.8" y="295.3" font-size="5.4" fill="#3a3a3c" textLength="20.6" lengthAdjust="spacingAndGlyphs">AC220V</text>
</g>
<g transform="translate(0,0)" filter="url(#b05)">
<path d="M1777.27 176.78 C1777.27 164.3 1782.07 155.66 1790.71 152.21 L1830.06 152.21 C1838.69 155.66 1843.49 164.3 1843.49 176.78 C1843.49 190.21 1829.1 200 1810.29 200 C1791.67 200 1777.27 190.21 1777.27 176.78 Z" fill="url(#baseg)"/>
<ellipse cx="1810.2" cy="163.5" rx="25" ry="6.5" fill="none" stroke="#2e2e2e" stroke-width="1"/>
<circle cx="1809.9" cy="139.2" r="27.6" fill="#0b0b0b"/>
<clipPath id="dc1"><circle cx="1809.7" cy="138.4" r="25.4"/></clipPath>
<circle cx="1809.7" cy="138.4" r="25.4" fill="url(#domeg)"/>
<g clip-path="url(#dc1)">
<ellipse cx="1811" cy="163" rx="30" ry="13" fill="#1f1f1f" filter="url(#b3)"/>
<path d="M1829 118 L1842 118 L1842 165 L1826 165 Q1832 140 1829 118 Z" fill="#2a2a2a" filter="url(#b1)" opacity="0.9"/>
<path d="M1817 124 Q1824 120 1828.5 128 Q1831 140 1828.5 148 L1817 148.5 Z" fill="#c4c4c4" filter="url(#b05)"/>
<path d="M1804 124 Q1806 116 1810 118 Q1815.5 120 1816.3 128 L1816.3 162 L1803.5 162 Z" fill="#3b3b3b" filter="url(#b05)"/>
<path d="M1806.5 118 Q1810 127 1808 140 L1805 140 Q1806 128 1804.5 122 Z" fill="#d8d8d8" opacity="0.55"/>
<path d="M1797 152 L1805 146 L1806 160 L1799 158 Z" fill="#262626" opacity="0.8"/>
</g>
<circle cx="1810.5" cy="147.9" r="4.4" fill="#1c1c1c" stroke="#c9c9c9" stroke-width="0.9"/>
<circle cx="1810.5" cy="147.9" r="2" fill="#4a4a4a"/>
<circle cx="1801.5" cy="145.4" r="1.3" fill="#d03040"/>
<path d="M1788 128 Q1794 116 1806 113.5" stroke="#e6e6e6" stroke-width="1.6" fill="none" opacity="0.7" filter="url(#b05)"/>
<circle cx="1810" cy="181.8" r="2.1" fill="#020202"/>
<circle cx="1811.6" cy="180.4" r="0.8" fill="#8a8a8a"/>
<rect x="1805.5" y="186.2" width="9.5" height="0.9" fill="#050505" opacity="0.8"/>
</g>
<g transform="translate(1.4,92.3)" filter="url(#b05)">
<path d="M1777.27 176.78 C1777.27 164.3 1782.07 155.66 1790.71 152.21 L1830.06 152.21 C1838.69 155.66 1843.49 164.3 1843.49 176.78 C1843.49 190.21 1829.1 200 1810.29 200 C1791.67 200 1777.27 190.21 1777.27 176.78 Z" fill="url(#baseg)"/>
<ellipse cx="1810.2" cy="163.5" rx="25" ry="6.5" fill="none" stroke="#2e2e2e" stroke-width="1"/>
<circle cx="1809.9" cy="139.2" r="27.6" fill="#0b0b0b"/>
<clipPath id="dc2"><circle cx="1809.7" cy="138.4" r="25.4"/></clipPath>
<circle cx="1809.7" cy="138.4" r="25.4" fill="url(#domeg)"/>
<g clip-path="url(#dc2)">
<ellipse cx="1811" cy="163" rx="30" ry="13" fill="#1f1f1f" filter="url(#b3)"/>
<path d="M1829 118 L1842 118 L1842 165 L1826 165 Q1832 140 1829 118 Z" fill="#2a2a2a" filter="url(#b1)" opacity="0.9"/>
<path d="M1817 124 Q1824 120 1828.5 128 Q1831 140 1828.5 148 L1817 148.5 Z" fill="#c4c4c4" filter="url(#b05)"/>
<path d="M1804 124 Q1806 116 1810 118 Q1815.5 120 1816.3 128 L1816.3 162 L1803.5 162 Z" fill="#3b3b3b" filter="url(#b05)"/>
<path d="M1806.5 118 Q1810 127 1808 140 L1805 140 Q1806 128 1804.5 122 Z" fill="#d8d8d8" opacity="0.55"/>
<path d="M1797 152 L1805 146 L1806 160 L1799 158 Z" fill="#262626" opacity="0.8"/>
</g>
<circle cx="1810.5" cy="147.9" r="4.4" fill="#1c1c1c" stroke="#c9c9c9" stroke-width="0.9"/>
<circle cx="1810.5" cy="147.9" r="2" fill="#4a4a4a"/>
<circle cx="1801.5" cy="145.4" r="1.3" fill="#d03040"/>
<path d="M1788 128 Q1794 116 1806 113.5" stroke="#e6e6e6" stroke-width="1.6" fill="none" opacity="0.7" filter="url(#b05)"/>
<circle cx="1810" cy="181.8" r="2.1" fill="#020202"/>
<circle cx="1811.6" cy="180.4" r="0.8" fill="#8a8a8a"/>
<rect x="1805.5" y="186.2" width="9.5" height="0.9" fill="#050505" opacity="0.8"/>
</g>
<g transform="translate(1.4,190)" filter="url(#b05)">
<path d="M1777.27 176.78 C1777.27 164.3 1782.07 155.66 1790.71 152.21 L1830.06 152.21 C1838.69 155.66 1843.49 164.3 1843.49 176.78 C1843.49 190.21 1829.1 200 1810.29 200 C1791.67 200 1777.27 190.21 1777.27 176.78 Z" fill="url(#baseg)"/>
<ellipse cx="1810.2" cy="163.5" rx="25" ry="6.5" fill="none" stroke="#2e2e2e" stroke-width="1"/>
<circle cx="1809.9" cy="139.2" r="27.6" fill="#0b0b0b"/>
<clipPath id="dc3"><circle cx="1809.7" cy="138.4" r="25.4"/></clipPath>
<circle cx="1809.7" cy="138.4" r="25.4" fill="url(#domeg)"/>
<g clip-path="url(#dc3)">
<ellipse cx="1811" cy="163" rx="30" ry="13" fill="#1f1f1f" filter="url(#b3)"/>
<path d="M1829 118 L1842 118 L1842 165 L1826 165 Q1832 140 1829 118 Z" fill="#2a2a2a" filter="url(#b1)" opacity="0.9"/>
<path d="M1817 124 Q1824 120 1828.5 128 Q1831 140 1828.5 148 L1817 148.5 Z" fill="#c4c4c4" filter="url(#b05)"/>
<path d="M1804 124 Q1806 116 1810 118 Q1815.5 120 1816.3 128 L1816.3 162 L1803.5 162 Z" fill="#3b3b3b" filter="url(#b05)"/>
<path d="M1806.5 118 Q1810 127 1808 140 L1805 140 Q1806 128 1804.5 122 Z" fill="#d8d8d8" opacity="0.55"/>
<path d="M1797 152 L1805 146 L1806 160 L1799 158 Z" fill="#262626" opacity="0.8"/>
</g>
<circle cx="1810.5" cy="147.9" r="4.4" fill="#1c1c1c" stroke="#c9c9c9" stroke-width="0.9"/>
<circle cx="1810.5" cy="147.9" r="2" fill="#4a4a4a"/>
<circle cx="1801.5" cy="145.4" r="1.3" fill="#d03040"/>
<path d="M1788 128 Q1794 116 1806 113.5" stroke="#e6e6e6" stroke-width="1.6" fill="none" opacity="0.7" filter="url(#b05)"/>
<circle cx="1810" cy="181.8" r="2.1" fill="#020202"/>
<circle cx="1811.6" cy="180.4" r="0.8" fill="#8a8a8a"/>
<rect x="1805.5" y="186.2" width="9.5" height="0.9" fill="#050505" opacity="0.8"/>
</g>
<text class="la" x="417.1 452 493.3 536.75 566.3 605.2 621.3 656 668.3 699.2" y="201.3" font-size="53" fill="#231815">SOC<tspan font-size="44.5" dy="-1">–</tspan><tspan dy="1">DIP 08</tspan></text>
<text class="la" x="1204.6 1239.5 1280.8 1324.25 1353.8 1392.7 1408.8 1443.5 1455.8 1486.7" y="201.3" font-size="53" fill="#231815">SOC<tspan font-size="44.5" dy="-1">–</tspan><tspan dy="1">DIP 08</tspan></text>
<text class="cn" x="99 152.2" y="510.8" font-size="47">局端</text>
<text class="cn" x="1551 1604.2" y="510.8" font-size="47">远端</text>
<rect x="44.7" y="525" width="1805" height="5.8" fill="#231815"/>
</svg>
</body>
</html>
